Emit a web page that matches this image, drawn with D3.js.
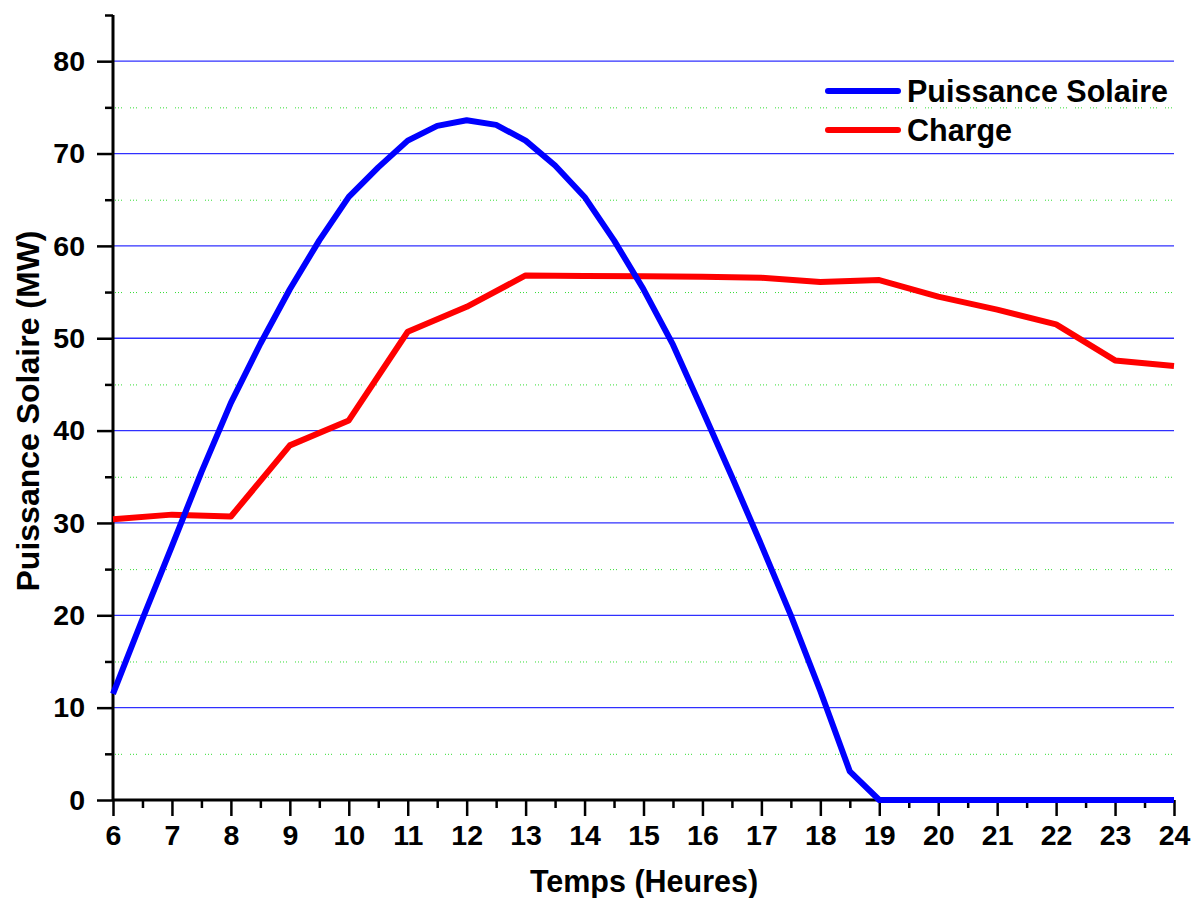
<!DOCTYPE html>
<html><head><meta charset="utf-8">
<script src="https://cdn.jsdelivr.net/npm/d3@7"></script>
<style>
html,body{margin:0;padding:0;background:#fff;}
text{font-family:"Liberation Sans",Arial,sans-serif;font-weight:bold;fill:#000;}
</style></head>
<body>
<svg id="chart" width="1200" height="898"></svg>
<script>
const solarHours = [6,6.5,7,7.5,8,8.5,9,9.5,10,10.5,11,11.5,12,12.5,13,13.5,14,14.5,15,15.5,16,16.5,17,17.5,18,18.5,19,19.5,20,20.5,21,21.5,22,22.5,23,23.5,24];
const solarValues = [11.5,19.6,27.5,35.5,43.0,49.4,55.3,60.6,65.3,68.5,71.4,73.0,73.6,73.1,71.4,68.7,65.3,60.6,55.3,49.3,42.2,35.0,27.6,20.0,11.8,3.1,0,0,0,0,0,0,0,0,0,0,0];
const loadHours = [6,7,8,9,10,11,12,13,14,15,16,17,18,19,20,21,22,23,24];
const loadValues = [30.4,30.9,30.7,38.4,41.1,50.7,53.4,56.8,56.75,56.7,56.65,56.55,56.1,56.3,54.5,53.1,51.5,47.6,47.0];
const seriesNames = ["Puissance Solaire","Charge"];
const seriesColors = ["#0000ff","#ff0000"];
const xTicks = [6,7,8,9,10,11,12,13,14,15,16,17,18,19,20,21,22,23,24];
const yTicks = [0,10,20,30,40,50,60,70,80];
const yMinor = [5,15,25,35,45,55,65,75];
const xTitle = "Temps (Heures)";
const yTitle = "Puissance Solaire (MW)";

const svg = d3.select("#chart");
const L = 113, R = 1174, T = 15, B = 800;
const x = d3.scaleLinear().domain([6,24]).range([L,R]);
const y = d3.scaleLinear().domain([0,85]).range([B,T]);

// grid
svg.append("g").selectAll("line").data(yMinor).join("line")
  .attr("x1",L+2).attr("x2",R).attr("y1",d=>y(d)+0.5).attr("y2",d=>y(d)+0.5)
  .attr("stroke","#33dd33").attr("stroke-width",1).attr("stroke-dasharray","1,2,1,2,1,8");
svg.append("g").selectAll("line").data(yTicks.filter(d=>d>0)).join("line")
  .attr("x1",L).attr("x2",R).attr("y1",d=>y(d)).attr("y2",d=>y(d))
  .attr("stroke","#3030ff").attr("stroke-width",1.3);

// axes
const xAxis = svg.append("g").attr("transform",`translate(0,${B})`)
  .call(d3.axisBottom(x).tickValues(xTicks).tickSize(16).tickPadding(9).tickFormat(d3.format("d")));
const xMinor = svg.append("g").attr("transform",`translate(0,${B})`)
  .call(d3.axisBottom(x).tickValues(d3.range(6.5,24,1)).tickSize(8).tickFormat(""));
const yAxis = svg.append("g").attr("transform",`translate(${L},0)`)
  .call(d3.axisLeft(y).tickValues(yTicks).tickSize(16).tickPadding(12).tickFormat(d3.format("d")));
const yMin = svg.append("g").attr("transform",`translate(${L},0)`)
  .call(d3.axisLeft(y).tickValues(yMinor.concat([85])).tickSize(8).tickFormat(""));
[xAxis,xMinor,yAxis,yMin].forEach(g=>{
  g.selectAll(".domain").attr("stroke","#000").attr("stroke-width",3);
  g.selectAll(".tick line").attr("stroke","#000").attr("stroke-width",2.5);
  g.selectAll("text").style("font-size","28.5px").style("font-family","'Liberation Sans',Arial,sans-serif").style("font-weight","bold").attr("fill","#000");
});
xMinor.select(".domain").remove();
yMin.select(".domain").remove();
yAxis.select(".domain").attr("d",`M0,${B}V${T}`);
xAxis.select(".domain").attr("d",`M${L},0H${R}`);

// lines
const line = d3.line().x(d=>x(d[0])).y(d=>y(d[1]));
const solar = solarHours.map((h,i)=>[h,solarValues[i]]);
const load = loadHours.map((h,i)=>[h,loadValues[i]]);
svg.append("path").datum(load).attr("d",line).attr("fill","none")
  .attr("stroke",seriesColors[1]).attr("stroke-width",6).attr("stroke-linejoin","round");
svg.append("path").datum(solar).attr("d",line).attr("fill","none")
  .attr("stroke",seriesColors[0]).attr("stroke-width",6).attr("stroke-linejoin","round");

// titles
svg.append("text").attr("x",644).attr("y",892).attr("text-anchor","middle")
  .style("font-size","30.5px").text(xTitle);
svg.append("text").attr("transform",`translate(39,${411}) rotate(-90)`).attr("text-anchor","middle")
  .style("font-size","32px").text(yTitle);

// legend
const leg = svg.append("g");
seriesNames.forEach((n,i)=>{
  const yy = 91 + i*39;
  leg.append("line").attr("x1",828).attr("x2",898).attr("y1",yy).attr("y2",yy)
    .attr("stroke",seriesColors[i]).attr("stroke-width",6).attr("stroke-linecap","round");
  leg.append("text").attr("x",907).attr("y",yy+11).style("font-size","30.5px").text(n);
});
</script>
</body></html>
